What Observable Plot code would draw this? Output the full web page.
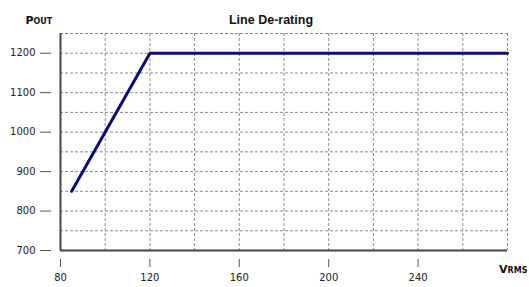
<!DOCTYPE html>
<html><head>
<meta charset="utf-8">
<script src="https://cdn.jsdelivr.net/npm/d3@7"></script>
<script src="https://cdn.jsdelivr.net/npm/@observablehq/plot@0.6"></script>
<style>body{margin:0;background:#fff}</style>
</head><body><div id="chart"></div>
<script>
const lineV = [85, 120, 280];
const lineP = [850, 1200, 1200];
const xTicks = [80, 120, 160, 200, 240];
const yTicks = [700, 800, 900, 1000, 1100, 1200];
const xGrid = [100, 120, 140, 160, 180, 200, 220, 240, 260, 280];
const yGrid = [750, 800, 850, 900, 950, 1000, 1050, 1100, 1150, 1200, 1250];
const title = "Line De-rating";
const yLabel = "Pout";
const xLabel = "Vrms";

const data = lineV.map((v, i) => ({v, p: lineP[i]}));

const chart = Plot.plot({
  width: 529, height: 287,
  marginLeft: 60, marginRight: 22, marginTop: 33, marginBottom: 37,
  x: {domain: [80, 280]},
  y: {domain: [700, 1250]},
  style: {fontFamily: "DejaVu Sans", fontSize: "10px", color: "#222", background: "#fff"},
  marks: [
    Plot.ruleX(xGrid, {stroke: "#8a8a8a", strokeDasharray: "3,2", strokeWidth: 1}),
    Plot.ruleY(yGrid, {stroke: "#8a8a8a", strokeDasharray: "3,2", strokeWidth: 1}),
    Plot.axisX({ticks: xTicks, tickSize: 8, dy: 9, tickPadding: 6, label: null, stroke: "#555", tickFormat: d => String(d)}),
    Plot.axisY({ticks: yTicks, tickSize: 11, dx: -9, tickPadding: 5, label: null, stroke: "#555", tickFormat: d => String(d)}),
    Plot.line(data, {x: "v", y: "p", stroke: "#0b0b7a", strokeWidth: 3}),
    Plot.ruleX([80], {stroke: "#444", strokeWidth: 2}),
    Plot.ruleY([700], {stroke: "#444", strokeWidth: 2}),
    Plot.text([title], {frameAnchor: "top", dx: -13, dy: -10, lineAnchor: "bottom", fontWeight: "bold", fontSize: 12.5, fontFamily: "Liberation Sans", fill: "#111"}),
    Plot.text([yLabel], {frameAnchor: "top-left", textAnchor: "start", dx: -35, dy: -10, lineAnchor: "bottom", fontWeight: "bold", fontVariant: "small-caps", fontSize: 11, fill: "#111"}),
    Plot.text([xLabel], {frameAnchor: "bottom-right", textAnchor: "end", dx: 20, dy: 22, lineAnchor: "bottom", fontWeight: "bold", fontVariant: "small-caps", fontSize: 11, fill: "#111"})
  ]
});
document.getElementById("chart").appendChild(chart);
</script>
</body></html>
